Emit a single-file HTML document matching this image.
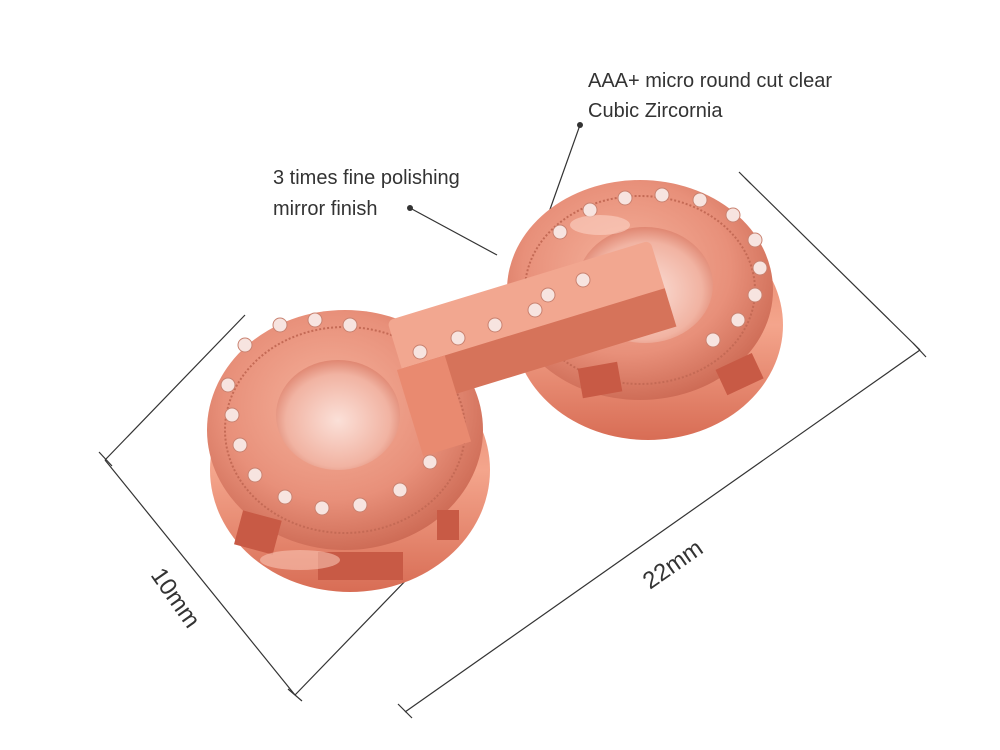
<!DOCTYPE html>
<html><head><meta charset="utf-8"><style>
html,body{margin:0;padding:0;background:#fff;}
svg{display:block}
text{font-family:"Liberation Sans",sans-serif;fill:#333;}
</style></head><body>
<svg width="1000" height="750" viewBox="0 0 1000 750" xmlns="http://www.w3.org/2000/svg">
<defs>
<radialGradient id="rg" cx="45%" cy="40%" r="65%">
<stop offset="0" stop-color="#f5b29c"/><stop offset="0.6" stop-color="#e8907a"/><stop offset="1" stop-color="#c9654f"/>
</radialGradient>
<linearGradient id="side" x1="0" y1="0" x2="0" y2="1">
<stop offset="0" stop-color="#e27c62"/><stop offset="0.5" stop-color="#f4a58c"/><stop offset="1" stop-color="#d86d55"/>
</linearGradient>
<radialGradient id="hole" cx="50%" cy="55%" r="60%">
<stop offset="0" stop-color="#fbe0d8"/><stop offset="0.7" stop-color="#f1b3a2"/><stop offset="1" stop-color="#d9765f"/>
</radialGradient>
</defs>
<rect width="1000" height="750" fill="#fff"/>

<g stroke="#333" stroke-width="1.2" fill="none">
<line x1="105" y1="460" x2="245" y2="315"/>
<line x1="105" y1="460" x2="295" y2="695"/>
<line x1="295" y1="695" x2="440" y2="545"/>
<line x1="99" y1="452" x2="112" y2="466"/>
<line x1="288" y1="689" x2="302" y2="701"/>
<line x1="745" y1="178" x2="920" y2="350"/>
<line x1="405" y1="712" x2="920" y2="350"/>
<line x1="398" y1="704" x2="412" y2="718"/>
<line x1="913" y1="343" x2="926" y2="357"/>
<line x1="739" y1="172" x2="751" y2="184"/>
<line x1="410" y1="208" x2="497" y2="255"/>
<line x1="580" y1="125" x2="548" y2="215"/>
</g>
<circle cx="410" cy="208" r="3" fill="#333"/>
<circle cx="580" cy="125" r="3" fill="#333"/>

<ellipse cx="648" cy="325" rx="135" ry="115" fill="url(#side)"/>
<ellipse cx="640" cy="290" rx="133" ry="110" fill="url(#rg)"/>
<ellipse cx="640" cy="290" rx="115" ry="94" fill="none" stroke="#c46a55" stroke-width="2" stroke-dasharray="2 2"/>
<ellipse cx="645" cy="285" rx="68" ry="58" fill="url(#hole)"/>
<rect x="580" y="365" width="40" height="30" fill="#c85a45" transform="rotate(-10 600 380)"/>
<rect x="720" y="360" width="40" height="28" fill="#c85a45" transform="rotate(-25 740 375)"/>

<ellipse cx="350" cy="470" rx="140" ry="122" fill="url(#side)"/>
<ellipse cx="345" cy="430" rx="138" ry="120" fill="url(#rg)"/>
<ellipse cx="345" cy="430" rx="120" ry="103" fill="none" stroke="#c46a55" stroke-width="2" stroke-dasharray="2 2"/>
<ellipse cx="338" cy="415" rx="62" ry="55" fill="url(#hole)"/>
<rect x="238" y="515" width="40" height="35" fill="#c85a45" transform="rotate(15 258 532)"/>
<rect x="318" y="552" width="85" height="28" fill="#c85a45"/>
<rect x="437" y="510" width="22" height="30" fill="#c85a45"/>

<g transform="rotate(-17 525 310)">
<rect x="390" y="280" width="275" height="62" rx="6" fill="#f2a790"/>
<rect x="390" y="330" width="275" height="40" fill="#d6735a"/>
<rect x="385" y="330" width="50" height="90" fill="#e98a70"/>
</g>

<g fill="#f7e4e0" stroke="#c98270" stroke-width="1">
<circle cx="560" cy="232" r="7"/><circle cx="590" cy="210" r="7"/><circle cx="625" cy="198" r="7"/><circle cx="662" cy="195" r="7"/><circle cx="700" cy="200" r="7"/><circle cx="733" cy="215" r="7"/><circle cx="755" cy="240" r="7"/><circle cx="760" cy="268" r="7"/><circle cx="755" cy="295" r="7"/><circle cx="738" cy="320" r="7"/><circle cx="713" cy="340" r="7"/>
<circle cx="420" cy="352" r="7"/><circle cx="458" cy="338" r="7"/><circle cx="495" cy="325" r="7"/><circle cx="535" cy="310" r="7"/><circle cx="548" cy="295" r="7"/><circle cx="583" cy="280" r="7"/>
<circle cx="245" cy="345" r="7"/><circle cx="280" cy="325" r="7"/><circle cx="315" cy="320" r="7"/><circle cx="350" cy="325" r="7"/><circle cx="228" cy="385" r="7"/><circle cx="232" cy="415" r="7"/><circle cx="240" cy="445" r="7"/><circle cx="255" cy="475" r="7"/><circle cx="285" cy="497" r="7"/><circle cx="322" cy="508" r="7"/><circle cx="360" cy="505" r="7"/><circle cx="400" cy="490" r="7"/><circle cx="430" cy="462" r="7"/>
</g>
<ellipse cx="300" cy="560" rx="40" ry="10" fill="#f8c3b2" opacity="0.6"/>
<ellipse cx="600" cy="225" rx="30" ry="10" fill="#fbd2c4" opacity="0.6"/>

<text x="588" y="87" font-size="20">AAA+ micro round cut clear</text>
<text x="588" y="117" font-size="20">Cubic Zircornia</text>
<text x="273" y="184" font-size="20">3 times fine polishing</text>
<text x="273" y="215" font-size="20">mirror finish</text>
<text x="0" y="0" font-size="24" transform="translate(150,575) rotate(55)">10mm</text>
<text x="0" y="0" font-size="24" transform="translate(650,590) rotate(-35)">22mm</text>
</svg>
</body></html>
